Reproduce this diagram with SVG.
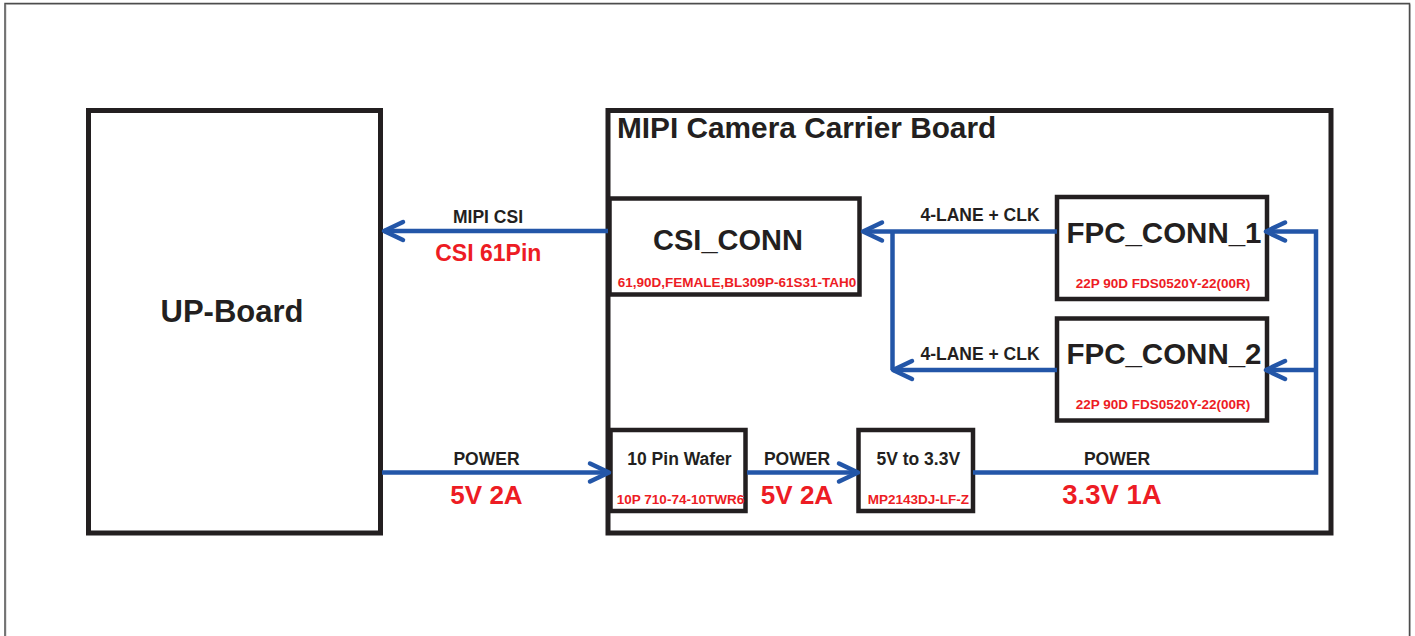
<svg xmlns="http://www.w3.org/2000/svg" width="1415" height="636" viewBox="0 0 1415 636">
<style>
.box{fill:#fff;stroke:#231f20;stroke-width:4.5}
.big{fill:#fff;stroke:#231f20;stroke-width:5}
.t{font-family:"Liberation Sans",Arial,sans-serif;font-weight:bold;fill:#231f20}
.r{font-family:"Liberation Sans",Arial,sans-serif;font-weight:bold;fill:#ed1c24}
.c{fill:none;stroke:#2356a8;stroke-width:4.5}
</style>
<defs>
<marker id="arr" markerUnits="userSpaceOnUse" viewBox="-24 -13 28 26" markerWidth="28" markerHeight="26" refX="0" refY="0" orient="auto">
<path d="M-19,-9 L0,0 L-19,9" fill="none" stroke="#2356a8" stroke-width="4.5" stroke-linecap="round" stroke-linejoin="round"/>
</marker>
</defs>
<rect width="1415" height="636" fill="#fff"/>
<path d="M6,640 V4.5 H1410.5 V640" fill="none" stroke="#c8c8c8" stroke-width="1"/>
<path d="M5,640 V3.5 H1409.5 V640" fill="none" stroke="#4d4d4d" stroke-width="1.5"/>

<g id="up-board">
<rect class="big" x="88.5" y="110.5" width="292" height="422.5"/>
<text class="t" x="232" y="322" font-size="31" text-anchor="middle">UP-Board</text>
</g>

<g id="carrier-board">
<rect class="big" x="608" y="110.5" width="723" height="422.5"/>
<text class="t" x="617" y="138" font-size="29.8">MIPI Camera Carrier Board</text>
</g>

<g id="csi-conn">
<rect class="box" x="609.5" y="198.5" width="250" height="96"/>
<text class="t" x="728" y="250" font-size="29" text-anchor="middle">CSI_CONN</text>
<text class="r" x="737" y="287" font-size="13.5" text-anchor="middle">61,90D,FEMALE,BL309P-61S31-TAH0</text>
</g>

<g id="fpc-conn-1">
<rect class="box" x="1057" y="197" width="210" height="102"/>
<text class="t" x="1164" y="243" font-size="29.5" text-anchor="middle">FPC_CONN_1</text>
<text class="r" x="1163" y="287.5" font-size="13.5" text-anchor="middle">22P 90D FDS0520Y-22(00R)</text>
</g>

<g id="fpc-conn-2">
<rect class="box" x="1057" y="318.5" width="210" height="102"/>
<text class="t" x="1164" y="364" font-size="29.5" text-anchor="middle">FPC_CONN_2</text>
<text class="r" x="1163" y="408.5" font-size="13.5" text-anchor="middle">22P 90D FDS0520Y-22(00R)</text>
</g>

<g id="pin-wafer">
<rect class="box" x="610.5" y="430" width="135" height="81"/>
<text class="t" x="679.5" y="464.5" font-size="17.5" text-anchor="middle">10 Pin Wafer</text>
<text class="r" x="680.5" y="503.5" font-size="13.5" text-anchor="middle">10P 710-74-10TWR6</text>
</g>

<g id="regulator">
<rect class="box" x="858.5" y="430" width="114.5" height="81"/>
<text class="t" x="918.3" y="464.5" font-size="17.5" text-anchor="middle">5V to 3.3V</text>
<text class="r" x="918.3" y="503.5" font-size="13.5" text-anchor="middle">MP2143DJ-LF-Z</text>
</g>

<g id="connectors">
<path class="c" d="M608,231 H384" marker-end="url(#arr)"/>
<path class="c" d="M1057,231.5 H863" marker-end="url(#arr)"/>
<path class="c" d="M892.5,231.5 V370"/>
<path class="c" d="M1057,370 H893" marker-end="url(#arr)"/>
<path class="c" d="M382,472.5 H609" marker-end="url(#arr)"/>
<path class="c" d="M747,472.5 H858" marker-end="url(#arr)"/>
<path class="c" d="M973,472.5 H1316 V231.5 H1266" marker-end="url(#arr)"/>
<path class="c" d="M1316,370 H1266" marker-end="url(#arr)"/>
</g>

<g id="labels">
<text class="t" x="488" y="222.5" font-size="17.5" text-anchor="middle">MIPI CSI</text>
<text class="r" x="488.3" y="261" font-size="23" text-anchor="middle">CSI 61Pin</text>
<text class="t" x="980" y="221" font-size="17.5" text-anchor="middle">4-LANE + CLK</text>
<text class="t" x="980" y="359.5" font-size="17.5" text-anchor="middle">4-LANE + CLK</text>
<text class="t" x="486.5" y="464.5" font-size="17.5" text-anchor="middle">POWER</text>
<text class="r" x="486.5" y="503.5" font-size="26" text-anchor="middle">5V 2A</text>
<text class="t" x="797" y="464.5" font-size="17.5" text-anchor="middle">POWER</text>
<text class="r" x="797" y="503.5" font-size="26" text-anchor="middle">5V 2A</text>
<text class="t" x="1117" y="464.5" font-size="17.5" text-anchor="middle">POWER</text>
<text class="r" x="1112" y="503.5" font-size="27.5" text-anchor="middle">3.3V 1A</text>
</g>
</svg>
